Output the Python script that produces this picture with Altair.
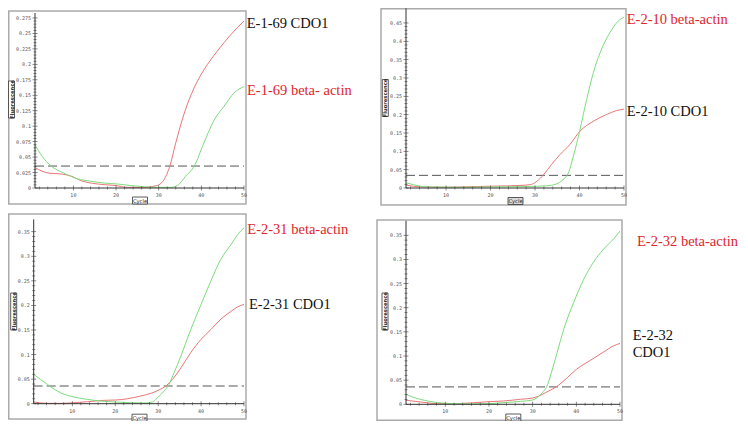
import altair as alt
import pandas as pd

SERIES = ["CDO1", "beta-actin"]
LINE_COLORS = ["#ea7676", "#7ddc7d"]

# ---- Panel 1: E-1-69 ----
P1_CDO1_CYC = [1, 4.3, 6.6, 10, 11.7, 17.2, 20, 22.6, 27, 28.9, 30, 31.2, 32.6, 34, 36, 38.3, 40.6, 43.7, 46.9, 50]
P1_CDO1_VAL = [0.033, 0.024, 0.023, 0.018, 0.012, 0.0054, 0.004, 0.001, 0.001, 0.003, 0.005, 0.013, 0.035, 0.073, 0.121, 0.162, 0.191, 0.221, 0.248, 0.27]
P1_ACT_CYC = [1, 2.7, 4.7, 7.8, 10.9, 14, 17.2, 20.3, 23.4, 26.6, 29.7, 32.8, 34.4, 36.3, 38.3, 40.6, 43, 45.3, 47.7, 50]
P1_ACT_VAL = [0.070, 0.051, 0.036, 0.024, 0.015, 0.011, 0.008, 0.0065, 0.004, 0.002, 0.001, 0.001, 0.004, 0.019, 0.035, 0.073, 0.11, 0.132, 0.154, 0.164]

# ---- Panel 2: E-2-10 ----
P2_CDO1_CYC = [1, 4.2, 9.4, 16.9, 20.6, 26.6, 28.9, 30.4, 31.9, 33.7, 35.6, 37.8, 40.1, 43.1, 46, 48.3, 50]
P2_CDO1_VAL = [0.008, 0.003, 0.002, 0.004, 0.005, 0.007, 0.009, 0.018, 0.036, 0.064, 0.091, 0.118, 0.155, 0.182, 0.2, 0.211, 0.215]
P2_ACT_CYC = [1, 2.7, 5.7, 13.2, 20.6, 28.1, 32.6, 34.8, 36.3, 37.5, 38.6, 40.1, 41.6, 43.1, 44.6, 46.8, 48.7, 50]
P2_ACT_VAL = [0.014, 0.009, 0.003, 0.002, 0.003, 0.004, 0.006, 0.011, 0.023, 0.041, 0.086, 0.159, 0.241, 0.314, 0.368, 0.423, 0.455, 0.466]

# ---- Panel 3: E-2-31 ----
P3_CDO1_CYC = [1, 4.2, 7.3, 10.4, 13.5, 17.4, 20.1, 22.8, 25.9, 28.3, 30.2, 31.8, 33.3, 35.3, 37.6, 40, 42.3, 44.6, 47, 48.5, 50]
P3_CDO1_VAL = [0.0034, 0.0007, 0.0007, 0.002, 0.004, 0.0068, 0.0075, 0.010, 0.0156, 0.021, 0.028, 0.036, 0.049, 0.073, 0.104, 0.131, 0.151, 0.172, 0.188, 0.197, 0.202]
P3_ACT_CYC = [1, 2.6, 4.2, 7.3, 10.4, 13.5, 16.6, 20.1, 23.6, 26.7, 28.7, 29.8, 31.4, 32.5, 33.7, 35.3, 37.6, 40, 42.3, 44.6, 47, 48.5, 50]
P3_ACT_VAL = [0.060, 0.049, 0.039, 0.022, 0.0136, 0.0088, 0.0054, 0.0034, 0.002, 0.0014, 0.0034, 0.012, 0.026, 0.039, 0.063, 0.097, 0.151, 0.202, 0.25, 0.294, 0.324, 0.344, 0.358]

# ---- Panel 4: E-2-32 ----
P4_CDO1_CYC = [1, 4.4, 8.2, 12, 15.8, 20.1, 23.4, 27.2, 30, 31.4, 32.9, 34.4, 36, 37.9, 40.1, 43.2, 46.2, 48.5, 50]
P4_CDO1_VAL = [0.0083, 0.0048, 0.0014, 0.0014, 0.0028, 0.0055, 0.0069, 0.0104, 0.013, 0.017, 0.024, 0.031, 0.040, 0.055, 0.073, 0.091, 0.108, 0.121, 0.126]
P4_ACT_CYC = [1, 2.9, 5.2, 8.2, 12, 15.8, 20.1, 23.4, 27.2, 30, 31, 32.2, 33.3, 34.4, 35.6, 37.1, 39.4, 41.7, 43.9, 46.2, 48.5, 50]
P4_ACT_VAL = [0.0207, 0.0138, 0.0083, 0.0035, 0.0014, 0.0007, 0.0014, 0.0035, 0.006, 0.009, 0.0138, 0.024, 0.038, 0.069, 0.107, 0.155, 0.211, 0.259, 0.294, 0.321, 0.342, 0.359]

THRESHOLDS = [0.0355, 0.0345, 0.036, 0.036]

P1_Y_TICKS = [0, 0.025, 0.05, 0.075, 0.1, 0.125, 0.15, 0.175, 0.2, 0.225, 0.25, 0.275]
P2_Y_TICKS = [0, 0.05, 0.1, 0.15, 0.2, 0.25, 0.3, 0.35, 0.4, 0.45]
P3_Y_TICKS = [0, 0.05, 0.1, 0.15, 0.2, 0.25, 0.3, 0.35]
P4_Y_TICKS = [0, 0.05, 0.1, 0.15, 0.2, 0.25, 0.3, 0.35]
X_TICKS = [10, 20, 30, 40, 50]
X_TICK_LABELS = ["10", "20", "30", "40", "50"]
X_MINOR_TICKS = [2, 4, 6, 8, 12, 14, 16, 18, 22, 24, 26, 28, 32, 34, 36, 38, 42, 44, 46, 48]

LABELS = [
    ("E-1-69 CDO1", "E-1-69 beta- actin"),
    ("E-2-10 CDO1", "E-2-10 beta-actin"),
    ("E-2-31 CDO1", "E-2-31 beta-actin"),
    ("E-2-32", "CDO1", "E-2-32 beta-actin"),
]

W, H = 732, 413
DUMMY = alt.Data(values=[{}])
AX = "#333333"
TICK_FONT = "DejaVu Sans Mono"
SERIF = "Liberation Serif, Times New Roman, serif"


def minor_ticks(major):
    out = []
    for a, b in zip(major[:-1], major[1:]):
        for k in range(1, 5):
            out.append(round(a + k * (b - a) / 5, 10))
    return out


def make_panel(cc, cv, ac, av, thr, ymajor, ymax, x_rng, y_rng):
    df = pd.concat([
        pd.DataFrame({"cycle": cc, "value": cv, "series": SERIES[0]}),
        pd.DataFrame({"cycle": ac, "value": av, "series": SERIES[1]}),
    ])
    xs = alt.Scale(domain=[1, 50], range=x_rng, nice=False, zero=False)
    ys = alt.Scale(domain=[0, ymax], range=y_rng, nice=False, zero=False)

    def X(f, **kw):
        return alt.X(f, scale=xs, axis=None, **kw)

    def Y(f, **kw):
        return alt.Y(f, scale=ys, axis=None, **kw)

    lines = alt.Chart(df).mark_line(interpolate="monotone", strokeWidth=1).encode(
        x=X("cycle:Q"), y=Y("value:Q"),
        color=alt.Color("series:N", scale=alt.Scale(domain=SERIES, range=LINE_COLORS), legend=None),
        detail="series:N",
    )
    rng = pd.DataFrame({"c0": [1], "c1": [50], "v0": [0], "v1": [ymax], "t": [thr]})
    rule = alt.Chart(rng).mark_rule(strokeDash=[9, 4], color="#555", strokeWidth=1).encode(
        x=X("c0:Q"), x2="c1:Q", y=Y("t:Q"))
    xdom = alt.Chart(rng).mark_rule(color=AX, strokeWidth=1).encode(
        x=X("c0:Q"), x2="c1:Q", y=Y("v0:Q"))
    ydom = alt.Chart(rng).mark_rule(color=AX, strokeWidth=1).encode(
        x=X("c0:Q"), y=Y("v0:Q"), y2="v1:Q")

    ymaj = pd.DataFrame({"v": ymajor, "lab": [f"{v:g}" for v in ymajor], "c": 1})
    ymin = pd.DataFrame({"v": minor_ticks(ymajor), "c": 1})
    xmaj = pd.DataFrame({"c": X_TICKS, "lab": X_TICK_LABELS, "v": 0})
    xmin = pd.DataFrame({"c": X_MINOR_TICKS, "v": 0})

    ytm = alt.Chart(ymaj).mark_tick(orient="horizontal", size=5, thickness=0.8, color=AX).encode(
        x=X("c:Q"), y=Y("v:Q"))
    ytn = alt.Chart(ymin).mark_tick(orient="horizontal", size=3, thickness=0.8, color=AX).encode(
        x=X("c:Q"), y=Y("v:Q"))
    ylab = alt.Chart(ymaj).mark_text(align="right", baseline="middle", dx=-4, fontSize=5,
                                     font=TICK_FONT, color="#555").encode(
        x=X("c:Q"), y=Y("v:Q"), text="lab:N")
    xtm = alt.Chart(xmaj).mark_tick(orient="vertical", size=5, thickness=0.8, color=AX).encode(
        x=X("c:Q"), y=Y("v:Q"))
    xtn = alt.Chart(xmin).mark_tick(orient="vertical", size=3, thickness=0.8, color=AX).encode(
        x=X("c:Q"), y=Y("v:Q"))
    xlab = alt.Chart(xmaj).mark_text(align="center", baseline="middle", dy=7, fontSize=5,
                                     font=TICK_FONT, color="#555").encode(
        x=X("c:Q"), y=Y("v:Q"), text="lab:N")
    return alt.layer(rule, lines, xdom, ydom, ytm, ytn, ylab, xtm, xtn, xlab)


def rect(x0, x1, y0, y1, stroke, sw, fill="white", fop=1.0):
    return alt.Chart(DUMMY).mark_rect(fill=fill, fillOpacity=fop, stroke=stroke, strokeWidth=sw).encode(
        x=alt.value(x0), x2=alt.value(x1), y=alt.value(y0), y2=alt.value(y1)
    )


def text(t, x, y, color, size=14.5, font=SERIF, align="left", baseline="alphabetic", angle=0, weight="normal"):
    return alt.Chart(DUMMY).mark_text(
        text=t, align=align, baseline=baseline, fontSize=size, font=font, color=color,
        angle=angle, fontWeight=weight,
    ).encode(x=alt.value(x), y=alt.value(y))


panels = [
    make_panel(P1_CDO1_CYC, P1_CDO1_VAL, P1_ACT_CYC, P1_ACT_VAL, THRESHOLDS[0], P1_Y_TICKS, 0.283, [27, 236], [180, 5]),
    make_panel(P2_CDO1_CYC, P2_CDO1_VAL, P2_ACT_CYC, P2_ACT_VAL, THRESHOLDS[1], P2_Y_TICKS, 0.49, [398, 616], [180, 0.3]),
    make_panel(P3_CDO1_CYC, P3_CDO1_VAL, P3_ACT_CYC, P3_ACT_VAL, THRESHOLDS[2], P3_Y_TICKS, 0.375, [25.7, 236], [395.7, 211.4]),
    make_panel(P4_CDO1_CYC, P4_CDO1_VAL, P4_ACT_CYC, P4_ACT_VAL, THRESHOLDS[3], P4_Y_TICKS, 0.38, [398, 612], [396.3, 212.8]),
]

frames = [
    rect(0.75, 238, 3, 196, "#aaaaaa", 1.5, fop=0),
    rect(373, 618, 0.75, 197, "#aaaaaa", 1.5, fop=0),
    rect(0.75, 238, 206, 411, "#aaaaaa", 1.5, fop=0),
    rect(369, 614, 212, 412.2, "#aaaaaa", 1.5, fop=0),
]

RED, BLACK = "#e0252b", "#111111"
deco = []
for (fx, fy) in [(3.5, 91.5), (377.3, 90), (5.7, 303.5), (377, 303.5)]:
    deco.append(rect(fx - 3, fx + 3, fy - 18.5, fy + 18.5, "#333", 0.8))
    deco.append(text("Fluorescence", fx, fy, "#222", size=5.2, font="DejaVu Sans", align="center",
                     baseline="middle", angle=270, weight="bold"))
for i, (cx, cy) in enumerate([(132, 192.5), (507.5, 193), (131.5, 409.7), (505.3, 409.5)]):
    deco.append(rect(cx - 7.5, cx + 7.5, cy - 3.5, cy + 3.5, "#333", 0.8, fill="#d8d8d8" if i == 1 else "white"))
    deco.append(text("Cycle", cx, cy, "#222", size=5.2, font="DejaVu Sans", align="center", baseline="middle"))

deco += [
    text(LABELS[0][0], 238.7, 20, BLACK),
    text(LABELS[0][1], 239, 86.7, RED),
    text(LABELS[1][1], 618.7, 15.7, RED),
    text(LABELS[1][0], 618.7, 107.7, BLACK),
    text(LABELS[2][1], 239.3, 226, RED),
    text(LABELS[2][0], 241, 301, BLACK),
    text(LABELS[3][2], 629, 238, RED),
    text(LABELS[3][0], 624.7, 332, BLACK),
    text(LABELS[3][1], 624.7, 349, BLACK),
]

chart = alt.layer(*frames, *panels, *deco).resolve_scale(
    x="independent", y="independent"
).properties(
    width=W, height=H, autosize=alt.AutoSizeParams(type="none"), padding=0,
    background="white",
).configure_view(stroke=None)

chart.save("out.html", embed_options={"renderer": "svg", "actions": False})
